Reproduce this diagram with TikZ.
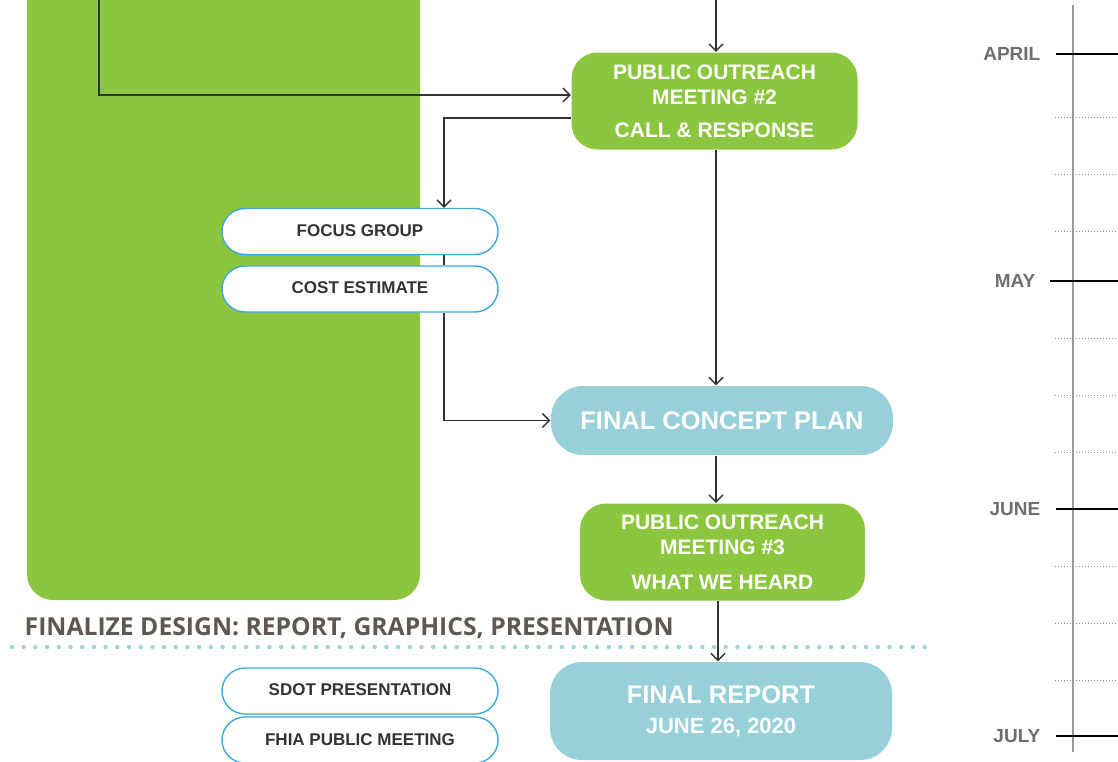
\documentclass[tikz,border=0pt]{standalone}
\usepackage{fontspec}
\setmainfont{Liberation Sans}
\newfontfamily\headfont{Open Sans}
\usetikzlibrary{arrows.meta}
\definecolor{leaf}{HTML}{8CC63F}
\definecolor{sky}{HTML}{97D0D9}
\definecolor{rim}{HTML}{3BA9DD}
\definecolor{ink}{HTML}{333333}
\definecolor{slate}{HTML}{5E5853}
\definecolor{monthgray}{HTML}{6E6E6E}
\definecolor{dotblue}{HTML}{9FD6DE}

\begin{document}
\begin{tikzpicture}[x=1pt,y=-1pt,line width=1.4pt,
  outreach node/.style={rounded corners=26pt,fill=leaf,text=white,align=center,inner sep=0pt,
    minimum width=286pt,minimum height=97pt,font=\fontsize{21}{25.5}\selectfont\bfseries},
  plan node/.style={rounded corners=32pt,fill=sky,text=white,align=center,inner sep=0pt,
    minimum width=342pt,font=\fontsize{25.5}{30}\selectfont\bfseries},
  task node/.style={rounded corners=23pt,draw=rim,line width=1.4pt,fill=white,text=ink,inner sep=0pt,
    minimum width=276pt,minimum height=46pt,font=\fontsize{17}{20}\selectfont\bfseries},
  month node/.style={anchor=east,inner sep=0pt,text=monthgray,font=\fontsize{19}{21}\selectfont\bfseries},
  flow/.style={draw=ink,-{Straight Barb[length=7pt,width=14pt]}}]

  \useasboundingbox (0,0) rectangle (1118,761);
  \clip (0,0) rectangle (1118,761);

  % phase panel
  \fill[leaf,rounded corners=26pt] (27,-40) rectangle (420,600);

  \node[outreach node] (po2) at (714.5,101) {PUBLIC OUTREACH\\MEETING \#2\\[7pt]CALL \& RESPONSE};
  \node[task node] (focus) at (360,231.5) {\raisebox{2pt}{FOCUS GROUP}};
  \node[task node] (cost) at (360,289) {\raisebox{2pt}{COST ESTIMATE}};
  \node[plan node,minimum height=69pt] (fcp) at (722,420.5) {FINAL CONCEPT PLAN};
  \node[outreach node,minimum width=285pt] (po3) at (722.5,552) {PUBLIC OUTREACH\\MEETING \#3\\[9pt]WHAT WE HEARD};
  \node[plan node,minimum height=98pt] (report) at (721,711) {FINAL REPORT\\[0pt]{\fontsize{22}{25}\selectfont JUNE 26, 2020}};
  \node[task node] (sdot) at (360,691) {\raisebox{2pt}{SDOT PRESENTATION}};
  \node[task node] (fhia) at (360,740) {\raisebox{1pt}{FHIA PUBLIC MEETING}};

  \node[anchor=base west,inner sep=0pt,text=slate,font=\headfont\fontsize{24.7}{28}\selectfont\bfseries] (phase) at (24,635)
    {FINALIZE DESIGN: REPORT, GRAPHICS, PRESENTATION};
  \draw[dotblue,line width=4.5pt,line cap=round,dash pattern=on 0pt off 11.7pt] (12,647) -- (935,647);

  \coordinate (top1) at (99,-5);
  \coordinate (top2) at (716,-5);

  % connectors
  \draw[flow] (top1) |- ([yshift=6pt]po2.west);
  \draw[flow] (top2) -- (top2 |- po2.north);
  \draw[flow] ([yshift=-17pt]po2.west) -| ([xshift=84pt]focus.north);
  \draw[ink] ([xshift=84pt]focus.south) -- ([xshift=84pt]cost.north);
  \draw[flow] ([xshift=84pt]cost.south) |- (fcp.west);
  \draw[flow] (top2 |- po2.south) -- (top2 |- fcp.north);
  \draw[flow] (top2 |- fcp.south) -- (top2 |- po3.north);
  \draw[flow] (718,0 |- po3.south) -- (718,0 |- report.north);

  % timeline
  \node[month node] (apr) at (1041,54) {APRIL};
  \node[month node] (may) at (1036,281) {MAY};
  \node[month node] (jun) at (1041,509) {JUNE};
  \node[month node] (jul) at (1041,736) {JULY};
  \draw[gray!80,line width=2pt] (1073,5) -- (1073,752);
  \foreach \m in {apr,jun,jul}
    \draw[black,line width=1.8pt] ([xshift=15pt]\m.east) -- (1120,0 |- \m.east);
  \draw[black,line width=1.8pt] ([xshift=14pt]may.east) -- (1120,0 |- may.east);
  \foreach \y in {117,174,231,338,395,452,566,623,680}
    \draw[gray!85,line width=1pt,dash pattern=on 1.2pt off 1.8pt] (1055,\y) -- (1118,\y);
\end{tikzpicture}
\end{document}
